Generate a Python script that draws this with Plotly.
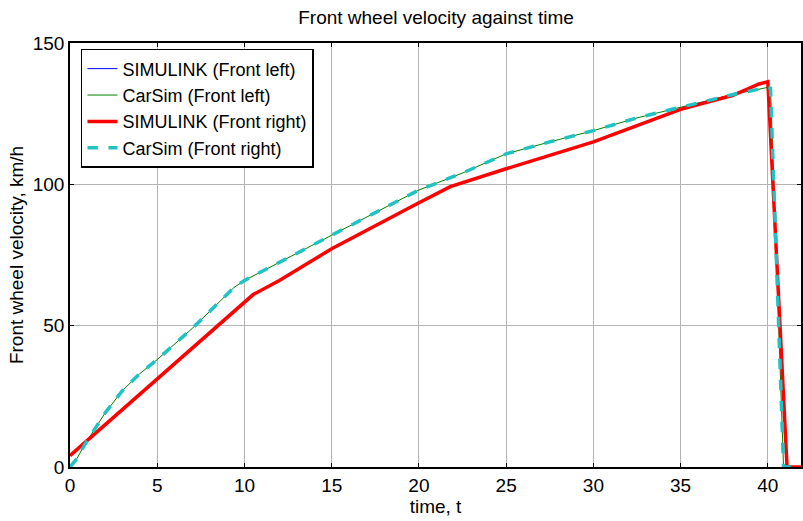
import plotly.graph_objects as go

# Time axis (s) and wheel speeds (km/h)
t_carsim = [0, 0.4, 0.8, 1.3, 2, 3, 4, 5, 6, 7, 8, 9, 9.4, 10, 12, 15, 17.5, 20,
            22.5, 24.5, 25, 27.5, 30, 32.5, 35, 36, 38, 40, 40.15, 40.9, 41.9]
v_carsim = [0, 3, 7.5, 12.3, 19, 27, 33, 38, 43.5, 49, 55, 61, 63.5, 66, 72.5, 82, 90, 98,
            104, 109.5, 110.8, 115, 119, 123.5, 127.3, 128.8, 131.8, 134.3, 134, 0, 0]

t_simulink = [0, 10.5, 12, 15, 20, 21.8, 25, 30, 35, 38, 39.5, 40, 41.1, 41.9]
v_simulink = [4, 61, 66, 77.2, 93.5, 99.2, 105.5, 115, 126.5, 131.5, 135.5, 136.3, 0, 0]

x_ticks = [0, 5, 10, 15, 20, 25, 30, 35, 40]
y_ticks = [0, 50, 100, 150]

FONT = "Liberation Sans, Arial, sans-serif"
FS = 19

fig = go.Figure()
fig.add_trace(go.Scatter(x=t_simulink, y=v_simulink, mode="lines",
                         name="SIMULINK (Front left)",
                         line=dict(color="#0000ff", width=1)))
fig.add_trace(go.Scatter(x=t_carsim, y=v_carsim, mode="lines",
                         name="CarSim (Front left)",
                         line=dict(color="#008000", width=1)))
fig.add_trace(go.Scatter(x=t_simulink, y=v_simulink, mode="lines",
                         name="SIMULINK (Front right)",
                         line=dict(color="#ff0000", width=3.5)))
fig.add_trace(go.Scatter(x=t_carsim, y=v_carsim, mode="lines",
                         name="CarSim (Front right)",
                         line=dict(color="#1fc3c3", width=3.5, dash="dash")))

axis_common = dict(
    showline=True, linecolor="black", linewidth=1.5, mirror="ticks",
    ticks="inside", ticklen=4, tickcolor="black",
    showgrid=True, gridcolor="#b4b4b4", gridwidth=1,
    zeroline=False, tickfont=dict(family=FONT, size=FS, color="black"),
)

fig.update_layout(
    width=803, height=521,
    margin=dict(l=70, r=0, t=43, b=54),
    paper_bgcolor="white", plot_bgcolor="white",
    font=dict(family=FONT, color="black"),
    title=dict(text="Front wheel velocity against time", x=0.543, xanchor="center",
               y=0.967, yanchor="middle", font=dict(family=FONT, size=FS, color="black")),
    xaxis=dict(range=[0, 41.9], tickvals=x_ticks, **axis_common,
               title=dict(text="time, t", standoff=0, font=dict(family=FONT, size=FS))),
    yaxis=dict(range=[0, 150], tickvals=y_ticks, **axis_common,
               title=dict(text="Front wheel velocity, km/h", standoff=4,
                          font=dict(family=FONT, size=FS))),
    legend=dict(x=0.015, y=0.986, xanchor="left", yanchor="top",
                bgcolor="white", bordercolor="black", borderwidth=1.5,
                font=dict(family=FONT, size=18, color="black"),
                tracegroupgap=0, itemwidth=30),
    showlegend=True,
)

fig.write_html("out.html")
